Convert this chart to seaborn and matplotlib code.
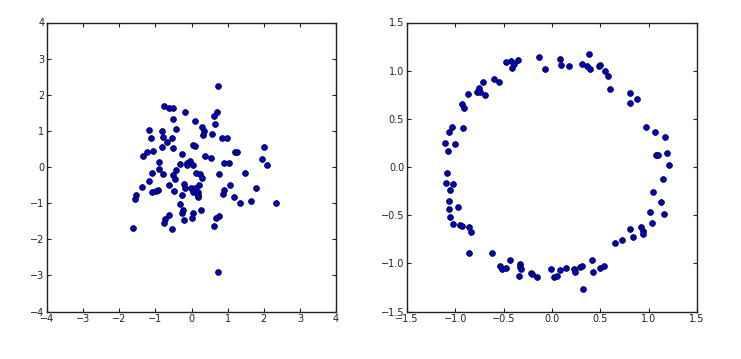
import matplotlib
matplotlib.use("Agg")
import matplotlib.pyplot as plt
import seaborn as sns
import pandas as pd

# Left panel: roughly normal cloud
gauss_x = [0.74, -0.76, -0.63, -0.52, -0.18, 0.70, 0.63, -0.50, 0.09, 0.65,
           0.30, -1.17, -0.83, -0.43, 0.34, 0.33, 0.56, -1.13, -0.78, -0.54,
           0.84, 0.97, -0.69, -0.81, -0.52, 0.03, 0.09, 2.01, -1.22, -1.07,
           -0.25, 1.21, 1.25, -1.35, 0.36, 0.55, 1.96, -0.03, -0.13, -0.89,
           -0.12, -0.32, 0.04, 0.90, 1.03, 2.09, -0.89, -0.42, -1.08, -0.78,
           0.13, 0.24, 0.75, 1.49, -0.52, -0.45, 0.29, -1.17, -0.21, -0.63,
           0.20, 1.07, -1.37, -0.19, -0.02, 0.09, 1.79, -0.93, -0.99, -1.09,
           -0.48, 0.04, 0.19, 0.91, -1.55, -0.25, 0.19, 0.86, 0.18, 1.17,
           -1.57, 1.65, 1.35, 2.34, -0.32, -0.23, 0.26, -0.26, 0.05, -0.61,
           0.01, 0.75, 0.67, -0.74, -0.20, -0.77, 0.62, -1.62, -0.53, 0.74]
gauss_y = [2.25, 1.69, 1.62, 1.62, 1.53, 1.52, 1.40, 1.33, 1.27, 1.20,
           1.11, 1.02, 1.01, 1.05, 1.01, 0.89, 0.92, 0.79, 0.84, 0.80,
           0.81, 0.79, 0.68, 0.55, 0.53, 0.61, 0.59, 0.54, 0.41, 0.44,
           0.37, 0.42, 0.42, 0.30, 0.30, 0.24, 0.23, 0.17, 0.12, 0.13,
           0.05, 0.07, 0.06, 0.10, 0.11, 0.05, -0.06, -0.07, -0.17, -0.18,
           -0.16, -0.20, -0.19, -0.17, -0.21, -0.32, -0.31, -0.39, -0.47, -0.50,
           -0.49, -0.50, -0.56, -0.57, -0.57, -0.57, -0.57, -0.64, -0.67, -0.70,
           -0.66, -0.70, -0.68, -0.63, -0.77, -0.77, -0.77, -0.75, -0.84, -0.84,
           -0.89, -0.93, -1.00, -0.99, -1.02, -1.19, -1.19, -1.26, -1.28, -1.33,
           -1.41, -1.37, -1.42, -1.43, -1.48, -1.55, -1.62, -1.69, -1.71, -2.92]

# Right panel: noisy ring
ring_x = [-0.135, 0.08, 0.384, -0.477, -0.422, -0.394, -0.349, -0.415, -0.069, 0.09,
          0.176, 0.308, 0.363, 0.398, 0.484, 0.498, 0.55, 0.581, 0.601, -0.712,
          -0.598, -0.553, -0.754, -0.774, -0.743, -0.691, -0.868, 0.812, 0.805, 0.875,
          -0.93, -0.906, -1.03, -0.923, -1.068, -1.11, -1.002, -1.075, 0.975, 1.068,
          1.168, 1.075, 1.10, 1.19, 1.21, -1.085, -1.099, -1.023, -1.054, -1.068,
          -0.971, -1.061, -1.054, -1.02, -0.954, -0.926, -0.857, -0.843, -0.857, 1.144,
          1.044, 1.13, 1.013, 1.155, 1.037, 0.809, 0.919, 0.937, 0.944, 0.843,
          0.719, 0.65, -0.619, -0.432, -0.536, -0.518, -0.474, -0.335, -0.328, -0.325,
          -0.342, -0.218, -0.207, -0.152, -0.014, 0.017, 0.048, 0.083, 0.145, 0.228,
          0.242, 0.29, 0.311, 0.415, 0.422, 0.494, 0.539, 0.321]
ring_y = [1.146, 1.126, 1.178, 1.087, 1.098, 1.074, 1.115, 1.032, 1.015, 1.056,
          1.046, 1.074, 1.046, 1.022, 1.05, 1.056, 0.998, 0.942, 0.811, 0.88,
          0.918, 0.887, 0.821, 0.779, 0.776, 0.745, 0.762, 0.766, 0.669, 0.707,
          0.651, 0.617, 0.419, 0.409, 0.36, 0.253, 0.242, 0.17, 0.419, 0.36,
          0.308, 0.128, 0.128, 0.142, 0.024, -0.062, -0.163, -0.18, -0.239, -0.35,
          -0.412, -0.433, -0.52, -0.589, -0.606, -0.617, -0.62, -0.675, -0.89, -0.125,
          -0.263, -0.364, -0.471, -0.485, -0.582, -0.644, -0.623, -0.665, -0.693, -0.731,
          -0.759, -0.79, -0.89, -0.963, -1.029, -1.056, -1.046, -1.008, -1.043, -1.063,
          -1.129, -1.105, -1.108, -1.14, -1.056, -1.143, -1.133, -1.067, -1.046, -1.06,
          -1.095, -1.039, -1.025, -0.966, -1.095, -1.046, -1.025, -1.264]

left_ticks = [-4, -3, -2, -1, 0, 1, 2, 3, 4]
right_ticks = [-1.5, -1.0, -0.5, 0.0, 0.5, 1.0, 1.5]

df_left = pd.DataFrame({"x": gauss_x, "y": gauss_y})
df_right = pd.DataFrame({"x": ring_x, "y": ring_y})

plt.rcParams["font.family"] = ["DejaVu Sans"]
fig = plt.figure(figsize=(7.41, 3.59), dpi=100)
ax1 = fig.add_axes([47 / 741, 47.5 / 359, 289 / 741, 289 / 359])
ax2 = fig.add_axes([407 / 741, 47.5 / 359, 290 / 741, 289 / 359])

for ax, df, ticks, lim in [(ax1, df_left, left_ticks, (-4, 4)),
                           (ax2, df_right, right_ticks, (-1.5, 1.5))]:
    sns.scatterplot(data=df, x="x", y="y", ax=ax, color="#0000cc",
                    edgecolor="#000022", linewidth=0.6, s=17, legend=False)
    ax.set_xlim(*lim)
    ax.set_ylim(*lim)
    ax.set_xticks(ticks)
    ax.set_yticks(ticks)
    if isinstance(ticks[0], float):
        labels = [f"{t:.1f}".replace("-", "\u2212") for t in ticks]
    else:
        labels = [f"{t}".replace("-", "\u2212") for t in ticks]
    ax.set_xticklabels(labels)
    ax.set_yticklabels(labels)
    ax.set_xlabel("")
    ax.set_ylabel("")
    ax.tick_params(direction="in", length=3, width=0.8, top=True, right=True,
                   labelsize=7, colors="#222222", pad=2)
    for sp in ax.spines.values():
        sp.set_color("#222222")
        sp.set_linewidth(1.0)
    ax.set_facecolor("white")

fig.savefig("out.png", dpi=100, facecolor="white")
